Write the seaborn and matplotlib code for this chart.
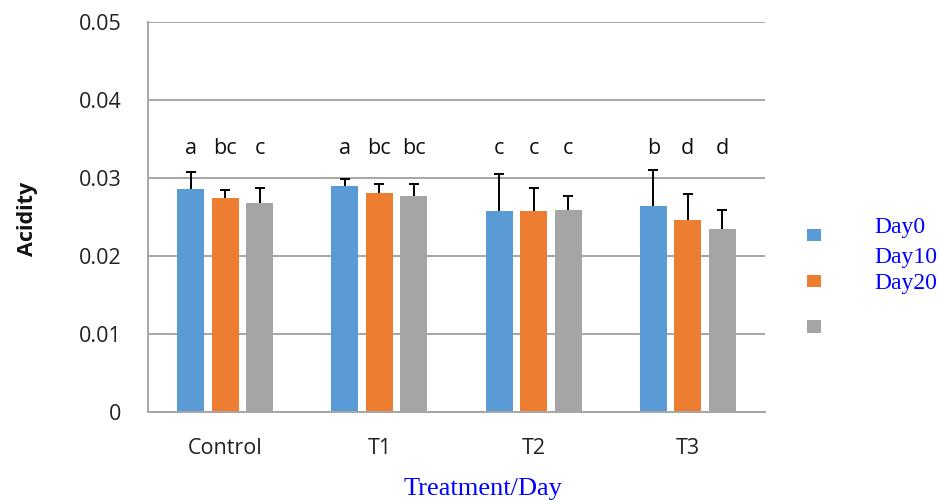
import matplotlib
matplotlib.use("Agg")
import matplotlib.pyplot as plt
import seaborn as sns
import pandas as pd
import numpy as np

# ---- data ----
treatments = ["Control", "T1", "T2", "T3"]
days = ["Day0", "Day10", "Day20"]
day0 = [0.0285, 0.0290, 0.0257, 0.0264]
day10 = [0.02745, 0.0280, 0.0257, 0.0246]
day20 = [0.0267, 0.0277, 0.0259, 0.0234]
err_day0 = [0.0022, 0.0008, 0.0048, 0.0046]
err_day10 = [0.0010, 0.00125, 0.0030, 0.0033]
err_day20 = [0.0020, 0.00155, 0.0017, 0.0025]
letters_day0 = ["a", "a", "c", "b"]
letters_day10 = ["bc", "bc", "c", "d"]
letters_day20 = ["c", "bc", "c", "d"]
ytick_values = [0, 0.01, 0.02, 0.03, 0.04, 0.05]
ytick_labels = ["0", "0.01", "0.02", "0.03", "0.04", "0.05"]
colors = ["#5B9BD5", "#ED7D31", "#A5A5A5"]

values = [day0, day10, day20]
errors = [err_day0, err_day10, err_day20]
letters = [letters_day0, letters_day10, letters_day20]

df = pd.DataFrame({
    "Treatment": np.repeat([treatments], 3, axis=0).ravel(),
    "Day": np.repeat(days, len(treatments)),
    "Acidity": np.concatenate(values),
})

sns.set_style("white")
plt.rcParams["font.family"] = ["Open Sans", "DejaVu Sans"]

W, H = 939, 500
fig = plt.figure(figsize=(W / 100, H / 100), dpi=100)
ax = fig.add_axes([148 / W, 1 - 412 / H, (765 - 148) / W, (412 - 21.5) / H])

sns.barplot(data=df, x="Treatment", y="Acidity", hue="Day", order=treatments,
            hue_order=days, palette=colors, width=0.67, gap=0.22,
            errorbar=None, linewidth=0, saturation=1, ax=ax)

bar_conts = list(ax.containers)
# error bars (upper only) and significance letters
for ci, cont in enumerate(bar_conts):
    xs = np.array([p.get_x() + p.get_width() / 2 for p in cont.patches])
    hs = np.array([p.get_height() for p in cont.patches])
    eb = ax.errorbar(xs, hs, yerr=[np.zeros_like(hs), np.array(errors[ci])],
                     fmt="none", ecolor="black", elinewidth=1.4, capsize=3.8,
                     capthick=1.4, zorder=3)
    for cl in eb[1]:
        if np.allclose(cl.get_ydata(), hs):
            cl.set_visible(False)
    for x, lab in zip(xs, letters[ci]):
        ax.text(x, 0.0338, lab, ha="center", va="center", fontsize=15.5,
                color="#111111")

ax.set_ylim(0, 0.05)
ax.set_xlim(-0.5, len(treatments) - 0.5)
ax.set_yticks(ytick_values)
ax.set_yticklabels(ytick_labels)
ax.tick_params(axis="y", length=0, pad=19, labelsize=15.5, labelcolor="#222222")
ax.tick_params(axis="x", length=0, pad=19, labelsize=15.5, labelcolor="#222222")
ax.yaxis.grid(True, color="#A6A6A6", lw=1.4)
ax.set_axisbelow(True)
for s in ["top", "right"]:
    ax.spines[s].set_visible(False)
for s in ["left", "bottom"]:
    ax.spines[s].set_color("#A6A6A6")
    ax.spines[s].set_linewidth(1.4)
ax.set_xlabel("")
ax.set_ylabel("")

# legend: squares only, labels as separate blue text
old = ax.get_legend()
handles = old.legend_handles
old.remove()
leg = ax.legend(handles, ["", "", ""], loc="upper left",
                bbox_to_anchor=(800 / W, 1 - 222 / H), bbox_transform=fig.transFigure,
                frameon=False, borderpad=0, handlelength=1, handleheight=1,
                handletextpad=0, labelspacing=2.2, fontsize=10)

for d, yy in zip(days, [227, 258, 284]):
    fig.text(874 / W, 1 - yy / H, d, color="blue", fontsize=17,
             family=["Liberation Serif"], ha="left", va="center")

fig.text(27 / W, 1 - 219 / H, "Acidity", rotation=90, fontweight="bold",
         fontsize=15.5, ha="center", va="center", color="#111111")
fig.text(483 / W, 1 - 489 / H, "Treatment/Day", color="blue", fontsize=19,
         family=["Liberation Serif"], ha="center", va="center")

fig.savefig("out.png", dpi=100)
